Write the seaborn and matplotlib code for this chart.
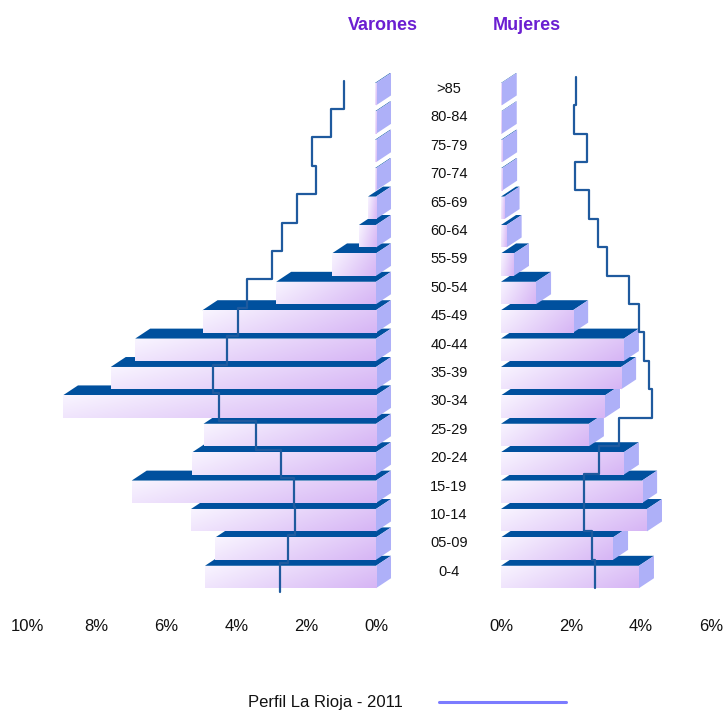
import numpy as np
import matplotlib
matplotlib.use("Agg")
import matplotlib.pyplot as plt
import matplotlib.transforms as mtransforms
from matplotlib.lines import Line2D
import seaborn as sns

# age groups, top to bottom
ages = [">85", "80-84", "75-79", "70-74", "65-69", "60-64", "55-59", "50-54", "45-49",
        "40-44", "35-39", "30-34", "25-29", "20-24", "15-19", "10-14", "05-09", "0-4"]

# bars (% of population)
varones = [0.03, 0.03, 0.03, 0.03, 0.23, 0.49, 1.26, 2.86, 4.97,
           6.90, 7.60, 8.97, 4.94, 5.26, 7.00, 5.30, 4.60, 4.90]
mujeres = [0.02, 0.02, 0.03, 0.03, 0.10, 0.16, 0.37, 1.00, 2.06,
           3.51, 3.43, 2.97, 2.51, 3.51, 4.03, 4.17, 3.20, 3.94]

# reference profile (step line)
perfil_varones = [0.91, 1.29, 1.83, 1.71, 2.26, 2.69, 2.97, 3.71, 3.94,
                  4.26, 4.66, 4.51, 3.43, 2.71, 2.34, 2.31, 2.51, 2.74]
perfil_mujeres = [2.14, 2.08, 2.45, 2.11, 2.51, 2.77, 3.03, 3.66, 3.94,
                  4.09, 4.23, 4.31, 3.37, 2.80, 2.37, 2.37, 2.60, 2.69]

ticks_v = [10, 8, 6, 4, 2, 0]
ticks_m = [0, 2, 4, 6]
leyenda = "Perfil La Rioja - 2011"

sns.set_theme(style="white")
plt.rcParams["font.family"] = ["Liberation Sans", "DejaVu Sans"]

W, H = 724, 716
fig = plt.figure(figsize=(W / 100, H / 100), dpi=100)

# vertical placement shared by both panels
ylim = (18.3, -1.2)
ax_bottom = 1 - 613.9 / H
ax_height = (613.9 - 60.1) / H
ax_l = fig.add_axes([27 / W, ax_bottom, 349 / W, ax_height])
ax_r = fig.add_axes([501 / W, ax_bottom, 210 / W, ax_height])

light = np.array([0.975, 0.96, 1.0])
dark = np.array([0.84, 0.71, 0.96])
u = np.linspace(0, 1, 64)[None, :]
v = np.linspace(0, 1, 16)[:, None]
t = (0.75 * u + 0.25 * v)[..., None]
grad = light * (1 - t) + dark * t

side_col = "#aeb0f8"
top_col = "#00509e"
line_col = "#1f5a9e"
depth_x, depth_y = 0.43, 0.35


def draw_panel(ax, values, perfil, xlim, ticks, line_off):
    sns.barplot(x=values, y=ages, order=ages, orient="h", ax=ax, color=dark,
                width=0.79, errorbar=None, saturation=1, linewidth=0)
    ax.set_xlim(*xlim)
    inverted = ax.xaxis_inverted()
    sgn = -1 if inverted else 1
    n = len(ax.patches)
    for i, p in enumerate(list(ax.patches)):
        x0, w = p.get_x(), p.get_width()
        y0, h = p.get_y(), p.get_height()
        xl, xr = (x0 + w, x0) if inverted else (x0, x0 + w)
        base = 3 + (n - i) * 0.01
        p.set_zorder(base + 0.002)
        im = ax.imshow(grad, extent=(xl, xr, y0 + h, y0), aspect="auto",
                       interpolation="bilinear", zorder=base + 0.003)
        im.set_clip_path(p)
        dx = sgn * depth_x
        top = [(xl, y0), (xr, y0), (xr + dx, y0 - depth_y), (xl + dx, y0 - depth_y)]
        side = [(xr, y0), (xr + dx, y0 - depth_y), (xr + dx, y0 + h - depth_y), (xr, y0 + h)]
        ax.fill(*zip(*top), color=top_col, lw=0, zorder=base + 0.001, clip_on=False)
        ax.fill(*zip(*side), color=side_col, lw=0, zorder=base + 0.001, clip_on=False)

    xs, ys = [], []
    for i, val in enumerate(perfil):
        xs += [val, val]
        ys += [i - 1 + line_off, i + line_off]
    ax.plot(xs, ys, color=line_col, lw=1.6, zorder=20, clip_on=False)

    ax.set_xlim(*xlim)
    ax.set_ylim(*ylim)
    ax.set_yticks([])
    ax.set_xticks(ticks)
    ax.set_xticklabels([f"{k}%" for k in ticks], fontsize=12, color="#111111")
    ax.tick_params(axis="x", length=0, pad=3.5)
    ax.set_xlabel("")
    ax.set_ylabel("")
    for s in ax.spines.values():
        s.set_visible(False)
    ax.patch.set_alpha(0)


draw_panel(ax_l, varones, perfil_varones, (10, 0), ticks_v, 0.52)
draw_panel(ax_r, mujeres, perfil_mujeres, (0, 6), ticks_m, 0.39)

# age labels between the panels
trans = mtransforms.blended_transform_factory(fig.transFigure, ax_r.transData)
for i, a in enumerate(ages):
    ax_r.text(449 / W, i - 0.18, a, transform=trans, ha="center", va="center",
              fontsize=10.5, color="#111111", clip_on=False)

fig.text(383 / W, 1 - 25 / H, "Varones", ha="center", va="center", fontsize=13,
         fontweight="bold", color="#6b1fd1")
fig.text(527 / W, 1 - 25 / H, "Mujeres", ha="center", va="center", fontsize=13,
         fontweight="bold", color="#6b1fd1")

handle = Line2D([], [], color="#7b7bff", lw=2.2)
fig.legend([handle], [leyenda], loc="center", bbox_to_anchor=(407 / W, 1 - 703 / H),
           markerfirst=False, frameon=False, fontsize=12, handlelength=7.6,
           handletextpad=2.2, labelcolor="#111111")

fig.savefig("out.png", dpi=100)
